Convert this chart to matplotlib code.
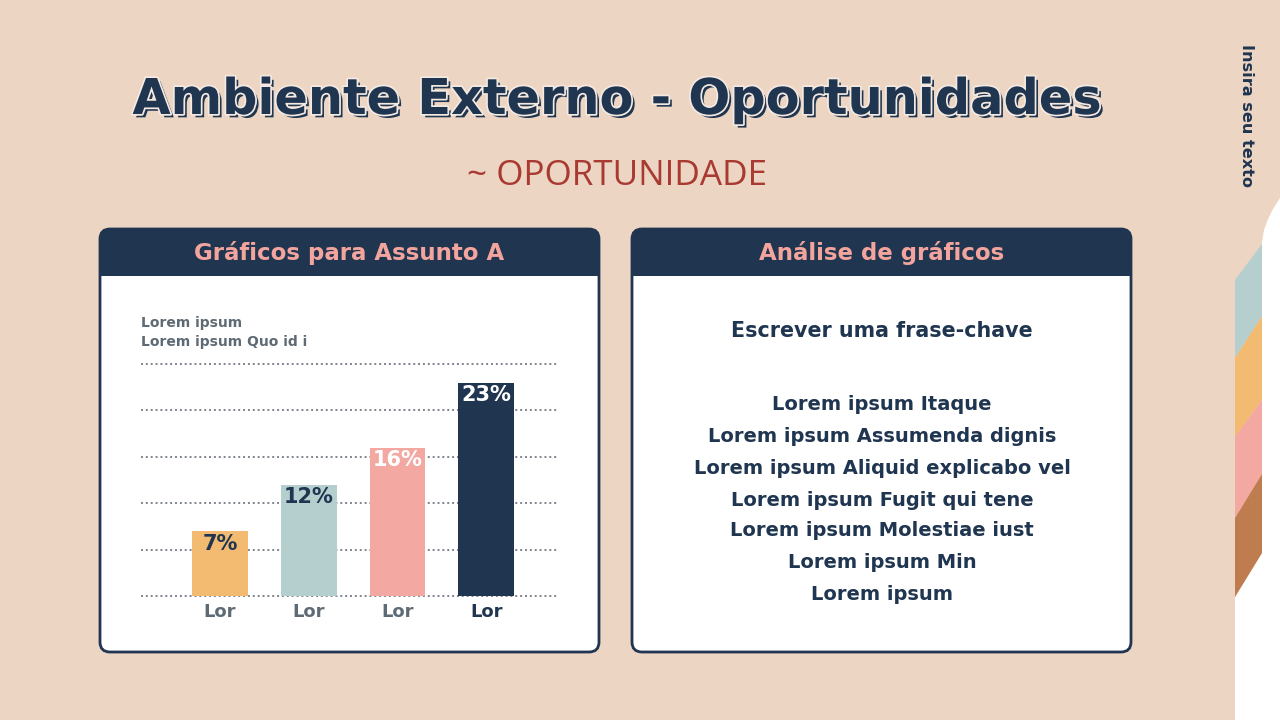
import matplotlib
matplotlib.use("Agg")
import matplotlib.pyplot as plt
from matplotlib.patches import FancyBboxPatch, Rectangle, Polygon
import matplotlib.patheffects as pe

# ---- data ----
categories = ["Lor", "Lor", "Lor", "Lor"]
values = [7, 12, 16, 23]
value_labels = ["7%", "12%", "16%", "23%"]
bar_colors = ["#F3BB71", "#B5CFCF", "#F3A8A1", "#1F3550"]
label_colors = ["#1F3550", "#1F3550", "#FFFFFF", "#FFFFFF"]
cat_colors = ["#5E6A74", "#5E6A74", "#5E6A74", "#1F3550"]
grid_levels = [0, 5, 10, 15, 20, 25]

title = "Ambiente Externo - Oportunidades"
subtitle = "~ OPORTUNIDADE"
left_header = "Gráficos para Assunto A"
right_header = "Análise de gráficos"
chart_notes = ["Lorem ipsum", "Lorem ipsum Quo id i"]
key_phrase = "Escrever uma frase-chave"
right_lines = ["Lorem ipsum Itaque", "Lorem ipsum Assumenda dignis",
               "Lorem ipsum Aliquid explicabo vel", "Lorem ipsum Fugit qui tene",
               "Lorem ipsum Molestiae iust", "Lorem ipsum Min", "Lorem ipsum"]
side_text = "Insira seu texto"

NAVY = "#1F3550"
BEIGE = "#EDD5C4"
PINK = "#F3A59D"
GREY = "#5E6A74"
RED = "#A83A32"

fig = plt.figure(figsize=(12.8, 7.2), dpi=100)
fig.patch.set_facecolor(BEIGE)
bg = fig.add_axes([0, 0, 1, 1])
bg.set_xlim(0, 1280)
bg.set_ylim(720, 0)
bg.axis("off")
renderer = fig.canvas.get_renderer()


def fit(t, width_px):
    bb = t.get_window_extent(renderer)
    t.set_fontsize(t.get_fontsize() * width_px / bb.width)
    return t

# ---- right decoration ----
white_poly = [(1235, 720), (1235, 597), (1262, 553), (1262, 242),
              (1264, 230), (1268, 219), (1273, 209), (1280, 198), (1280, 720)]
bg.add_patch(Polygon(white_poly, closed=True, fc="white", ec="none"))
stripe_cols = ["#B5CFCF", "#F3BB71", "#F3A8A1", "#BF7D4F"]
bounds = [(280, 244), (358, 316), (437, 400), (518, 474)]
for i, c in enumerate(stripe_cols):
    l0, r0 = bounds[i]
    if i < 3:
        l1, r1 = bounds[i + 1]
        pts = [(1235, l0), (1262, r0), (1262, r1), (1235, l1)]
    else:
        pts = [(1235, l0), (1262, r0), (1262, 553), (1235, 597)]
    bg.add_patch(Polygon(pts, closed=True, fc=c, ec="none"))
st = bg.text(1247, 116, side_text, rotation=-90, ha="center", va="center",
             color=NAVY, fontsize=10, fontweight="heavy", family="DejaVu Sans")
bb = st.get_window_extent(renderer)
st.set_fontsize(st.get_fontsize() * 143 / bb.height)

# ---- title ----
t = bg.text(617, 100, title, ha="center", va="center", color=NAVY,
            fontsize=36, fontweight="heavy", family="DejaVu Sans",
            path_effects=[pe.withSimplePatchShadow(offset=(2.4, -2.4), shadow_rgbFace=NAVY, alpha=1),
                          pe.Stroke(linewidth=2.5, foreground="#F4EAE2"), pe.Normal()])
fit(t, 970)
s = bg.text(617, 176, subtitle, ha="center", va="center", color=RED,
            fontsize=22, family="Open Sans", fontweight="normal")
fit(s, 300)

# ---- panels ----
def panel(x0, x1, y0, y1, header):
    bg.add_patch(FancyBboxPatch((x0, y0), x1 - x0, y1 - y0,
                                boxstyle="round,pad=0,rounding_size=10",
                                fc="white", ec="none"))
    bg.add_patch(FancyBboxPatch((x0, y0), x1 - x0, 47,
                                boxstyle="round,pad=0,rounding_size=10",
                                fc=NAVY, ec="none"))
    bg.add_patch(Rectangle((x0, y0 + 25), x1 - x0, 22, fc=NAVY, ec="none"))
    bg.add_patch(FancyBboxPatch((x0, y0), x1 - x0, y1 - y0,
                                boxstyle="round,pad=0,rounding_size=10",
                                fc="none", ec=NAVY, lw=2))
    return bg.text((x0 + x1) / 2, y0 + 24, header, ha="center", va="center",
                   color=PINK, fontsize=15, fontweight="bold", family="DejaVu Sans")

h1 = panel(100, 599, 229, 652, left_header)
fit(h1, 312)
h2 = panel(632, 1131, 229, 652, right_header)
h2.set_fontsize(h1.get_fontsize())

# chart notes
n1 = bg.text(141, 323, chart_notes[0], ha="left", va="center", color=GREY,
             fontsize=10, fontweight="bold", family="DejaVu Sans")
n2 = bg.text(141, 342, chart_notes[1], ha="left", va="center", color=GREY,
             fontsize=10, fontweight="bold", family="DejaVu Sans")
fit(n2, 166)
n1.set_fontsize(n2.get_fontsize())

# right panel text
k = bg.text(882, 331, key_phrase, ha="center", va="center", color=NAVY,
            fontsize=14, fontweight="bold", family="DejaVu Sans")
fit(k, 302)
ys = [405, 437, 468, 500, 531, 563, 594]
lines = []
for y, line in zip(ys, right_lines):
    lines.append(bg.text(882, y, line, ha="center", va="center", color=NAVY,
                         fontsize=14, fontweight="bold", family="DejaVu Sans"))
fit(lines[2], 378)
for L in lines:
    L.set_fontsize(lines[2].get_fontsize())

# ---- chart ----
cx = fig.add_axes([141 / 1280, (720 - 596) / 720, (559 - 141) / 1280, (596 - 364) / 720])
cx.set_xlim(-0.89, 3.82)
cx.set_ylim(0, 25)
cx.axis("off")
for g in grid_levels:
    cx.axhline(g, color="#7D848C", lw=1.4, linestyle=(0, (1, 1.5)), zorder=1, clip_on=False)
xs = list(range(len(values)))
cx.bar(xs, values, width=0.63, color=bar_colors, zorder=2)
for i, v in enumerate(values):
    cx.annotate(value_labels[i], (i, v), xytext=(0, -2), textcoords="offset points",
                ha="center", va="top", color=label_colors[i], fontsize=15,
                fontweight="bold", family="DejaVu Sans", zorder=3)
    cx.annotate(categories[i], (i, 0), xytext=(0, -11.5), textcoords="offset points",
                ha="center", va="center", color=cat_colors[i], fontsize=13,
                fontweight="bold", family="DejaVu Sans", annotation_clip=False)

fig.savefig("out.png", dpi=100, facecolor=BEIGE)
